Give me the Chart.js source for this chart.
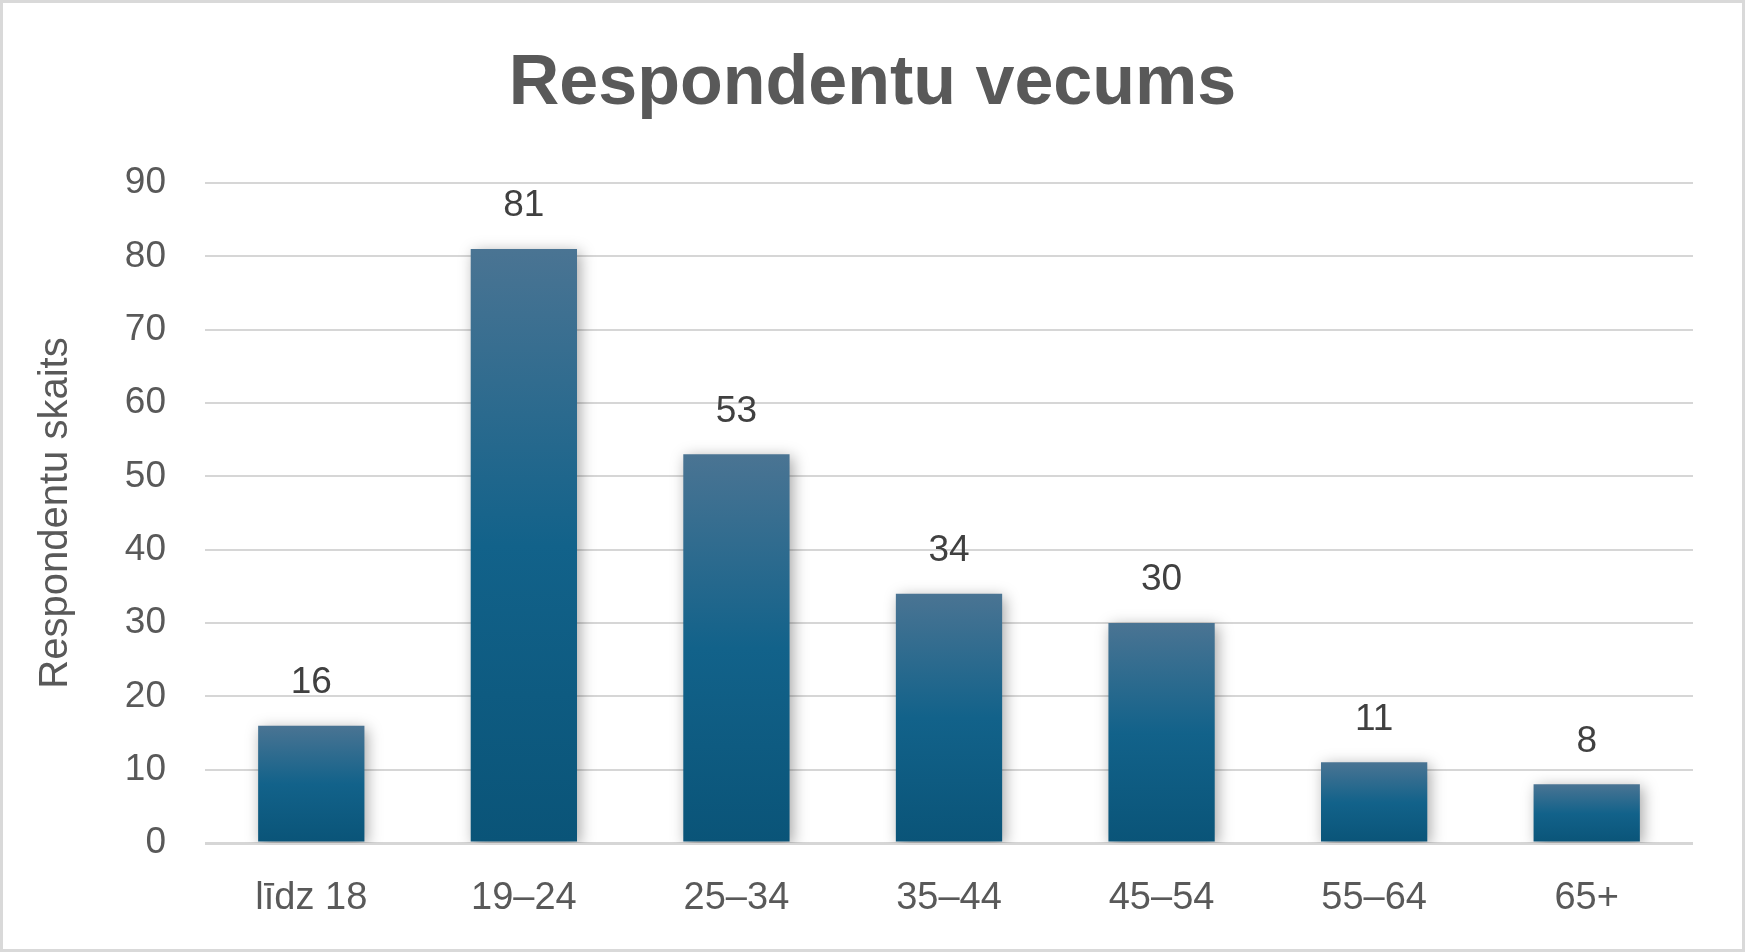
<!DOCTYPE html>
<html>
<head>
<meta charset="utf-8">
<script src="https://cdn.jsdelivr.net/npm/chart.js@4.4.1/dist/chart.umd.min.js"></script>
<style>
  html, body { margin: 0; padding: 0; background: #ffffff; }
  #wrap { position: relative; width: 1745px; height: 952px; }
  #frame { position: absolute; left: 0; top: 0; width: 1745px; height: 952px;
           box-sizing: border-box; border: 3px solid #d9d9d9; pointer-events: none; }
</style>
</head>
<body>
<div id="wrap">
  <canvas id="ageChart" width="1745" height="952"></canvas>
  <div id="frame"></div>
</div>
<script>
// chart data
const ageGroups = ["līdz 18", "19–24", "25–34", "35–44", "45–54", "55–64", "65+"];
const respondents = [16, 81, 53, 34, 30, 11, 8];
const yTicks = [0, 10, 20, 30, 40, 50, 60, 70, 80, 90];

const FONT = "'Liberation Sans', Arial, sans-serif";

// vertical gradient per bar, from the bar top down to zero
function barGradient(context) {
  const chart = context.chart;
  const y = chart.scales.y;
  if (!chart.chartArea || !y || context.raw === undefined) return "#11618a";
  const top = y.getPixelForValue(context.raw);
  const bottom = y.getPixelForValue(0);
  const g = chart.ctx.createLinearGradient(0, top, 0, bottom);
  g.addColorStop(0, "#4a7493");
  g.addColorStop(0.5, "#12628a");
  g.addColorStop(1, "#0a5478");
  return g;
}

// soft shadow behind the bars
const barShadow = {
  id: "barShadow",
  beforeDatasetDraw(chart) {
    const ctx = chart.ctx;
    ctx.save();
    ctx.shadowColor = "rgba(0, 0, 0, 0.35)";
    ctx.shadowBlur = 14;
    ctx.shadowOffsetX = 3;
    ctx.shadowOffsetY = 3;
  },
  afterDatasetDraw(chart) {
    chart.ctx.restore();
  }
};

// value labels above bars
const valueLabels = {
  id: "valueLabels",
  afterDatasetsDraw(chart) {
    const ctx = chart.ctx;
    const meta = chart.getDatasetMeta(0);
    ctx.save();
    ctx.font = "37px " + FONT;
    ctx.fillStyle = "#404040";
    ctx.textAlign = "center";
    ctx.textBaseline = "middle";
    meta.data.forEach((bar, i) => {
      ctx.fillText(String(respondents[i]), bar.x, bar.y - 43);
    });
    ctx.restore();
  }
};

new Chart(document.getElementById("ageChart"), {
  type: "bar",
  data: {
    labels: ageGroups,
    datasets: [{
      label: "Respondentu skaits",
      data: respondents,
      backgroundColor: barGradient,
      borderWidth: 0,
      barPercentage: 0.5,
      categoryPercentage: 1.0
    }]
  },
  options: {
    responsive: false,
    animation: false,
    devicePixelRatio: 1,
    layout: { padding: { left: 52, right: 52, top: 0, bottom: 0 } },
    plugins: {
      legend: { display: false },
      tooltip: { enabled: false },
      title: {
        display: true,
        text: "Respondentu vecums",
        color: "#595959",
        font: { family: FONT, size: 70, weight: "bold", lineHeight: 1.2 },
        padding: { top: 43, bottom: 56 }
      }
    },
    scales: {
      x: {
        grid: { display: false, drawTicks: false },
        border: { display: false },
        ticks: {
          color: "#595959",
          font: { family: FONT, size: 38 },
          padding: 33,
          maxRotation: 0
        },
        afterFit(scale) { scale.height = 109; }
      },
      y: {
        min: 0,
        max: 90,
        afterBuildTicks(scale) { scale.ticks = yTicks.map(v => ({ value: v })); },
        grid: {
          color: "#d6d6d6",
          lineWidth: c => (c.tick && c.tick.value === 0 ? 3 : 2),
          drawTicks: false
        },
        border: { display: false },
        ticks: {
          color: "#595959",
          font: { family: FONT, size: 37 },
          padding: 39
        },
        title: {
          display: true,
          text: "Respondentu skaits",
          color: "#595959",
          font: { family: FONT, size: 40, lineHeight: 1.2 },
          padding: { top: -20, bottom: 0 }
        },
        afterFit(scale) { scale.width = 153; }
      }
    }
  },
  plugins: [barShadow, valueLabels]
});
</script>
</body>
</html>
